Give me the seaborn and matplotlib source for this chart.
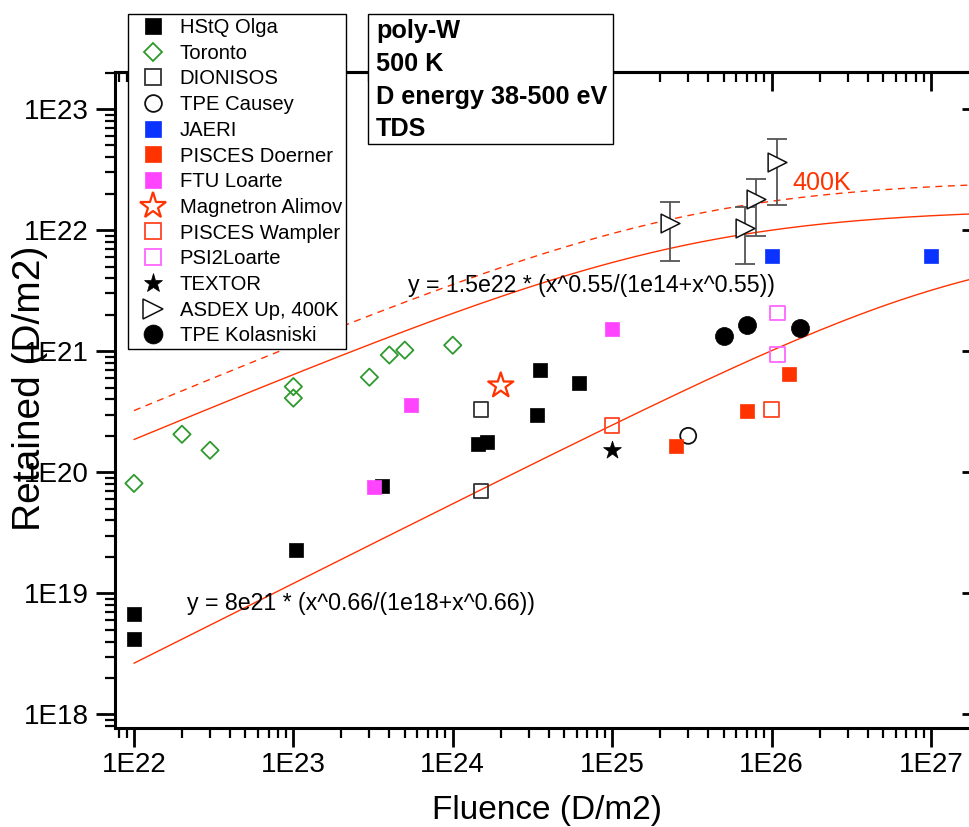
import matplotlib
matplotlib.use("Agg")
import numpy as np
import seaborn as sns
import matplotlib.pyplot as plt
from matplotlib import font_manager
from matplotlib.font_manager import FontProperties
from matplotlib.lines import Line2D
from matplotlib.patches import Rectangle
from matplotlib.ticker import FixedLocator, FuncFormatter, LogLocator, NullFormatter, NullLocator

# ---------------- data ----------------
hstq_x = [1e22, 1e22, 1.04e23, 3.6e23, 1.45e24, 1.65e24, 3.4e24, 3.55e24, 6.2e24]
hstq_y = [6.8e18, 4.2e18, 2.3e19, 7.7e19, 1.70e20, 1.77e20, 3.0e20, 7.0e20, 5.5e20]

toronto_x = [1e22, 2e22, 3e22, 1e23, 1e23, 3e23, 4e23, 5e23, 1e24]
toronto_y = [8.1e19, 2.06e20, 1.52e20, 5.1e20, 4.1e20, 6.1e20, 9.3e20, 1.02e21, 1.12e21]

dionisos_x = [1.5e24, 1.5e24]
dionisos_y = [3.3e20, 7.0e19]

causey_x = [3e25]
causey_y = [2.0e20]

jaeri_x = [1e26, 1e27]
jaeri_y = [6.1e21, 6.1e21]

doerner_x = [2.5e25, 7e25, 1.28e26]
doerner_y = [1.64e20, 3.2e20, 6.5e20]

ftu_x = [3.2e23, 5.5e23, 1e25]
ftu_y = [7.5e19, 3.6e20, 1.52e21]

alimov_x = [2e24]
alimov_y = [5.2e20]

wampler_x = [1e25, 1e26]
wampler_y = [2.44e20, 3.3e20]

psi2_x = [1.09e26, 1.09e26]
psi2_y = [2.06e21, 9.4e20]

textor_x = [1e25]
textor_y = [1.52e20]

asdex_x = [2.31e25, 6.8e25, 7.98e25, 1.08e26]
asdex_y = [1.14e22, 1.05e22, 1.81e22, 3.63e22]
asdex_lo = [5.56e21, 5.25e21, 8.9e21, 1.62e22]
asdex_hi = [1.71e22, 1.54e22, 2.66e22, 5.62e22]

kolas_x = [5e25, 7e25, 1.5e26]
kolas_y = [1.33e21, 1.64e21, 1.55e21]

# fit curves  y = A * x^p / (B + x^p)
fit_hi = dict(A=1.5e22, p=0.55, B=1e14)
fit_400 = dict(A=2.6e22, p=0.55, B=1e14)
fit_lo = dict(A=8e21, p=0.66, B=1e18)

x_major = [1e22, 1e23, 1e24, 1e25, 1e26, 1e27]
y_major = [1e18, 1e19, 1e20, 1e21, 1e22, 1e23]

legend_labels = ["HStQ Olga", "Toronto", "DIONISOS", "TPE Causey", "JAERI",
                 "PISCES Doerner", "FTU Loarte", "Magnetron Alimov", "PISCES Wampler",
                 "PSI2Loarte", "TEXTOR", "ASDEX Up, 400K", "TPE Kolasniski"]

# ---------------- style ----------------
sns.set_style("ticks")
plt.rcParams["font.family"] = ["Liberation Sans", "DejaVu Sans"]
for k in ["text.color", "axes.labelcolor", "xtick.color", "ytick.color", "axes.edgecolor"]:
    plt.rcParams[k] = "black"

names = {f.name for f in font_manager.fontManager.ttflist}
NARROW = "Liberation Sans Narrow" in names
if NARROW:
    tick_family, tick_size = "Liberation Sans Narrow", 22.5
    leg_prop = FontProperties(family="Liberation Sans Narrow", size=17)
    leg_kw = dict(borderpad=0.1, labelspacing=0.16, handlelength=1.95, handletextpad=0.21)
else:
    tick_family, tick_size = "Liberation Sans", 20
    leg_prop = FontProperties(family="Liberation Sans", size=14.6)
    leg_kw = dict(borderpad=0.2, labelspacing=0.33, handlelength=2.05, handletextpad=0.3)

W, H = 969, 827
fig = plt.figure(figsize=(W / 100, H / 100), dpi=100)
fig.patch.set_facecolor("white")
ax = fig.add_axes([115 / W, 1 - 728 / H, (970 - 115) / W, (728 - 72) / H])
ax.set_facecolor("white")
ax.set_xscale("log")
ax.set_yscale("log")
ax.set_xlim(10 ** 21.881, 10 ** 27.245)
ax.set_ylim(10 ** 17.888, 10 ** 23.306)

RED = "#FF3300"
GREEN = "#2E9A2E"
BLUE = "#0A33FF"
MAG = "#FF44FF"
VIO = "#FF66FF"
ORED = "#FF4422"


def fitcurve(xs, A, p, B):
    xp = np.power(xs, p)
    return A * xp / (B + xp)


xs = np.logspace(22, 27.245, 400)
sns.lineplot(x=xs, y=fitcurve(xs, **fit_400), ax=ax, color=RED, lw=1.0,
             linestyle=(0, (5, 4)), estimator=None, sort=False, zorder=2)
sns.lineplot(x=xs, y=fitcurve(xs, **fit_hi), ax=ax, color=RED, lw=1.0,
             estimator=None, sort=False, zorder=2)
sns.lineplot(x=xs, y=fitcurve(xs, **fit_lo), ax=ax, color=RED, lw=1.0,
             estimator=None, sort=False, zorder=2)

# error bars for ASDEX
ay = np.array(asdex_y)
ax.errorbar(asdex_x, asdex_y,
            yerr=[ay - np.array(asdex_lo), np.array(asdex_hi) - ay],
            fmt="none", ecolor="#555555", elinewidth=1.3, capsize=7, capthick=1.3, zorder=3)


def scat(x, y, marker, size, face, edge, lw=1.2):
    sns.scatterplot(x=x, y=y, ax=ax, marker=marker, s=size ** 2,
                    facecolor=face, edgecolor=edge, linewidth=lw, zorder=4, legend=False)


specs = [
    (hstq_x, hstq_y, "s", 10.5, "black", "black", 0.5),
    (toronto_x, toronto_y, "D", 8.8, "none", GREEN, 1.3),
    (dionisos_x, dionisos_y, "s", 10.5, "none", "#333333", 1.3),
    (causey_x, causey_y, "o", 11.5, "none", "#111111", 1.3),
    (jaeri_x, jaeri_y, "s", 10.5, BLUE, BLUE, 0.5),
    (doerner_x, doerner_y, "s", 10.5, RED, RED, 0.5),
    (ftu_x, ftu_y, "s", 10.5, MAG, MAG, 0.5),
    (alimov_x, alimov_y, "*", 19, "none", RED, 1.6),
    (wampler_x, wampler_y, "s", 10.5, "none", ORED, 1.3),
    (psi2_x, psi2_y, "s", 10.5, "none", VIO, 1.3),
    (textor_x, textor_y, "*", 13.5, "black", "black", 0.5),
    (asdex_x, asdex_y, ">", 13.5, "white", "#111111", 1.1),
    (kolas_x, kolas_y, "o", 13, "black", "black", 0.5),
]
for x, y, m, sz, fc, ec, lw in specs:
    scat(x, y, m, sz, fc, ec, lw)

# ---------------- axes / ticks ----------------
ax.xaxis.set_major_locator(FixedLocator(x_major))
ax.yaxis.set_major_locator(FixedLocator(y_major))
fmt = FuncFormatter(lambda v, pos: "1E%d" % int(round(np.log10(v))))
ax.xaxis.set_major_formatter(fmt)
ax.yaxis.set_major_formatter(fmt)
ax.xaxis.set_minor_locator(LogLocator(base=10, subs=np.arange(2, 10), numticks=50))
ax.yaxis.set_minor_locator(LogLocator(base=10, subs=np.arange(2, 10), numticks=50))
ax.xaxis.set_minor_formatter(NullFormatter())
ax.yaxis.set_minor_formatter(NullFormatter())
ax.tick_params(which="major", direction="out", length=14, width=2.0, labelsize=tick_size,
               labelfontfamily=tick_family, bottom=True, left=True, top=False, right=False,
               colors="black")
ax.tick_params(axis="x", which="major", pad=3)
ax.tick_params(axis="y", which="major", pad=5)
ax.tick_params(which="minor", direction="out", length=7, width=1.6,
               bottom=True, left=True, top=False, right=False)
for s in ["left", "bottom", "top"]:
    ax.spines[s].set_linewidth(2.2)
    ax.spines[s].set_color("black")
ax.spines["right"].set_visible(False)

sx = ax.secondary_xaxis("top")
sx.xaxis.set_major_locator(FixedLocator(x_major))
sx.xaxis.set_minor_locator(LogLocator(base=10, subs=np.arange(2, 10), numticks=50))
sx.tick_params(which="major", direction="in", length=14, width=2.0, labeltop=False)
sx.tick_params(which="minor", direction="in", length=7, width=1.6, labeltop=False)
sx.xaxis.set_minor_formatter(NullFormatter())
sx.spines["top"].set_linewidth(2.2)

sy = ax.secondary_yaxis("right")
sy.yaxis.set_major_locator(FixedLocator(y_major))
sy.yaxis.set_minor_locator(NullLocator())
sy.tick_params(which="major", direction="in", length=6, width=2.0, labelright=False)

# axis labels
fig.text(547 / W, 1 - 819 / H, "Fluence (D/m2)", fontsize=24, ha="center", va="baseline")
fig.text(30 / W, 1 - 388 / H, "Retained (D/m2)", fontsize=28, ha="center", va="center",
         rotation=90)

# equation annotations
fig.text(408 / W, 1 - 292 / H, "y = 1.5e22 * (x^0.55/(1e14+x^0.55))", fontsize=16.7,
         ha="left", va="baseline")
fig.text(187 / W, 1 - 610 / H, "y = 8e21 * (x^0.66/(1e18+x^0.66))", fontsize=16.7,
         ha="left", va="baseline")
fig.text(792 / W, 1 - 190 / H, "400K", fontsize=18, color=RED, ha="left", va="baseline")

# info box
fig.add_artist(Rectangle((368 / W, 1 - 144 / H), (613 - 368) / W, (144 - 14) / H,
                         transform=fig.transFigure, facecolor="white", edgecolor="black",
                         linewidth=1.0, zorder=5))
for txt, base in zip(["poly-W", "500 K", "D energy 38-500 eV", "TDS"], [38, 71, 104, 136]):
    fig.text(376 / W, 1 - base / H, txt, fontsize=18.2, fontweight="bold",
             ha="left", va="baseline", zorder=6)

# legend
handles = []
for x, y, m, sz, fc, ec, lw in specs:
    handles.append(Line2D([], [], linestyle="none", marker=m, markersize=sz * 1.05,
                          markerfacecolor=fc, markeredgecolor=ec, markeredgewidth=lw))
leg = fig.legend(handles, legend_labels, loc="upper left",
                 bbox_to_anchor=(128 / W, 1 - 14 / H), bbox_transform=fig.transFigure,
                 frameon=True, fancybox=False, framealpha=1, edgecolor="black",
                 prop=leg_prop, borderaxespad=0, **leg_kw)
leg.get_frame().set_linewidth(1.0)
leg.set_zorder(7)

fig.savefig("out.png", dpi=100, facecolor="white")
